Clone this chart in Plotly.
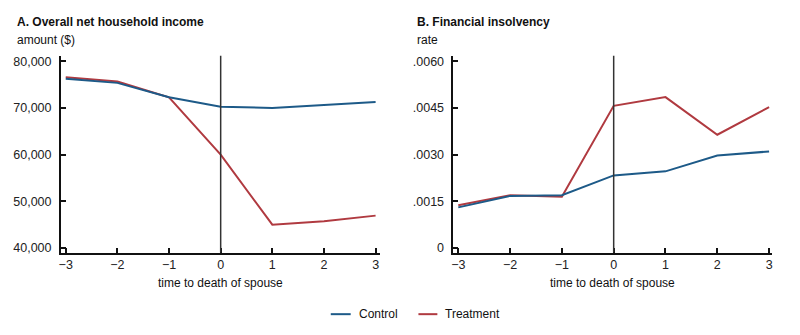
import plotly.graph_objects as go

W, H = 800, 335

years = [-3, -2, -1, 0, 1, 2, 3]
income_control = [76300, 75400, 72300, 70300, 70000, 70600, 71300]
income_treatment = [76600, 75700, 72300, 60000, 44950, 45700, 46900]
insolv_control = [0.00130, 0.00167, 0.00169, 0.00233, 0.00246, 0.00297, 0.00310]
insolv_treatment = [0.00137, 0.00169, 0.00164, 0.00457, 0.00485, 0.00364, 0.00453]

income_ticks = [40000, 50000, 60000, 70000, 80000]
insolv_ticks = [0, 0.0015, 0.0030, 0.0045, 0.0060]
insolv_ticktext = ["0", ".0015", ".0030", ".0045", ".0060"]

series_names = ["Control", "Treatment"]

BLUE = "#1d5a88"
RED = "#b03a40"
FONT = "Liberation Sans, Arial, Helvetica, sans-serif"

def px(x):
    return x / W

def py(y):
    return (H - y) / H

fig = go.Figure()
fig.add_trace(go.Scatter(x=years, y=income_treatment, mode="lines", name=series_names[1],
                         line=dict(color=RED, width=2), xaxis="x", yaxis="y", showlegend=False))
fig.add_trace(go.Scatter(x=years, y=income_control, mode="lines", name=series_names[0],
                         line=dict(color=BLUE, width=2), xaxis="x", yaxis="y", showlegend=False))
fig.add_trace(go.Scatter(x=years, y=insolv_treatment, mode="lines", name=series_names[1],
                         line=dict(color=RED, width=2), xaxis="x2", yaxis="y2", showlegend=False))
fig.add_trace(go.Scatter(x=years, y=insolv_control, mode="lines", name=series_names[0],
                         line=dict(color=BLUE, width=2), xaxis="x2", yaxis="y2", showlegend=False))

axis_common = dict(showgrid=False, zeroline=False, showline=True, linecolor="#111", linewidth=1.5,
                   ticks="inside", ticklen=5, tickwidth=1.5, tickcolor="#111",
                   tickfont=dict(size=12.5, color="#222", family=FONT))

fig.update_layout(
    width=W, height=H, margin=dict(l=0, r=0, t=0, b=0),
    paper_bgcolor="white", plot_bgcolor="white",
    font=dict(family=FONT, size=12, color="#222"),
    xaxis=dict(domain=[px(59), px(379)], range=[-3.096, 3.077], tickvals=years,
               anchor="y", **axis_common),
    yaxis=dict(domain=[py(254), py(55)], range=[38936, 81277], tickvals=income_ticks,
               tickformat=",d", anchor="x", ticklabelstandoff=5, **axis_common),
    xaxis2=dict(domain=[px(453), px(773)], range=[-3.096, 3.058], tickvals=years,
                anchor="y2", **axis_common),
    yaxis2=dict(domain=[py(254), py(55)], range=[-0.00016, 0.00619], tickvals=insolv_ticks,
                ticktext=insolv_ticktext, anchor="x2", ticklabelstandoff=5, **axis_common),
    showlegend=False,
)

# vertical lines at time 0
fig.add_shape(type="line", xref="x", yref="y", x0=0, x1=0, y0=38936, y1=81277,
              line=dict(color="#333", width=1.5))
fig.add_shape(type="line", xref="x2", yref="y2", x0=0, x1=0, y0=-0.00016, y1=0.00619,
              line=dict(color="#333", width=1.5))

def ann(text, x, y, size=12, bold=False, xanchor="left"):
    fig.add_annotation(text=f"<b>{text}</b>" if bold else text, xref="paper", yref="paper",
                       x=px(x), y=py(y), xanchor=xanchor, yanchor="middle", showarrow=False,
                       font=dict(size=size, color="#111", family=FONT))

ann("A. Overall net household income", 13, 21, size=12, bold=True)
ann("amount ($)", 13, 39)
ann("B. Financial insolvency", 415, 21, size=12, bold=True)
ann("rate", 415, 39)
ann("time to death of spouse", 219, 285, xanchor="center")
ann("time to death of spouse", 613, 285, xanchor="center")

# legend drawn manually
for (x0, x1, tx), color, name in [((330, 350, 356), BLUE, series_names[0]),
                                  ((418, 437, 443), RED, series_names[1])]:
    fig.add_shape(type="line", xref="paper", yref="paper", x0=px(x0), x1=px(x1),
                  y0=py(316), y1=py(316), line=dict(color=color, width=2))
    ann(name, tx, 316)

fig.write_html("out.html")
